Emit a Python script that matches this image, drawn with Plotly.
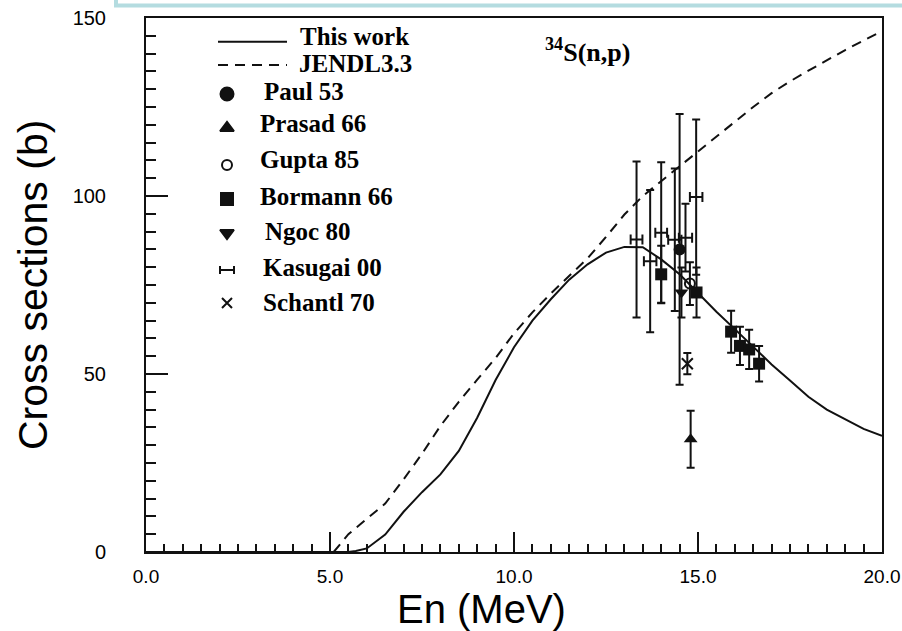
import plotly.graph_objects as go

# ---- calculated excitation functions for 34S(n,p) ----
E_this_work = [0.0, 5.5, 5.7, 6.0, 6.5, 7.0, 7.5, 8.0, 8.5, 9.0, 9.5, 10.0, 10.5,
               11.0, 11.5, 12.0, 12.5, 13.0, 13.5, 14.0, 14.5, 15.0, 15.5, 16.0,
               16.5, 17.0, 17.5, 18.0, 18.5, 19.0, 19.5, 20.0]
xs_this_work = [0.0, 0.0, 0.3, 1.0, 4.9, 11.3, 16.8, 21.8, 28.4, 37.7, 48.3, 57.5, 65.0,
                71.0, 76.5, 80.8, 84.1, 85.7, 85.6, 82.2, 78.0, 72.6, 67.5, 62.6,
                57.6, 52.7, 48.2, 43.6, 40.0, 37.3, 34.6, 32.6]

E_jendl = [5.1, 5.5, 6.0, 6.5, 7.0, 7.5, 8.0, 8.5, 9.0, 9.5, 10.0, 10.5, 11.0, 11.5,
           12.0, 12.5, 13.0, 13.5, 14.0, 14.5, 15.0, 15.5, 16.0, 16.5, 17.0, 17.5,
           18.0, 18.5, 19.0, 19.5, 20.0]
xs_jendl = [0.0, 5.0, 9.3, 13.6, 20.4, 27.6, 35.4, 42.2, 48.4, 54.5, 61.4, 67.3, 72.6,
            77.5, 82.5, 88.5, 94.8, 100.0, 104.2, 108.4, 112.5, 116.8, 121.0, 125.0,
            128.9, 132.2, 135.2, 138.2, 141.0, 143.7, 146.3]

# ---- measured data ----
paul_E, paul_xs, paul_err = [14.5], [85.0], [38.0]
prasad_E, prasad_xs, prasad_err = [14.8], [31.7], [8.0]
gupta_E, gupta_xs, gupta_err = [14.78], [75.4], [6.0]
bormann_E = [14.0, 14.96, 15.9, 16.14, 16.39, 16.66]
bormann_xs = [78.0, 72.9, 61.9, 57.9, 56.9, 52.9]
bormann_err = [8.0, 7.0, 5.9, 5.4, 5.5, 5.0]
ngoc_E, ngoc_xs, ngoc_err = [14.55], [72.9], [7.0]
kasugai_E = [13.33, 13.70, 14.00, 14.37, 14.66, 14.95]
kasugai_xs = [87.8, 81.7, 89.7, 87.7, 88.3, 99.7]
kasugai_err = [21.9, 20.0, 19.8, 20.0, 9.5, 21.8]
kasugai_Eerr = [0.16, 0.17, 0.16, 0.18, 0.18, 0.17]
schantl_E, schantl_xs, schantl_err = [14.71], [52.9], [3.0]

# axis ticks: major positions and minor spacing
x_ticks = [0, 5, 10, 15, 20]
x_minor_step = 0.5
y_ticks = [0, 50, 100, 150]
y_minor_step = 5

INK = "#111111"
SERIF = "Liberation Serif, Times New Roman, serif"
SANS = "Liberation Sans, Arial, sans-serif"

W, H = 902, 631
ML, MR, MT, MB = 146, 20, 18, 79
PW, PH = W - ML - MR, H - MT - MB
X_RANGE = [x_ticks[0], x_ticks[-1]]
Y_RANGE = [y_ticks[0], y_ticks[-1]]


def px_x(p):
    return (p - ML) / PW


def px_y(p):
    return (H - MB - p) / PH


# pixel position -> data units, used only to lay out the key
def key_x(p):
    return X_RANGE[0] + px_x(p) * (X_RANGE[1] - X_RANGE[0])


def key_y(p):
    return Y_RANGE[0] + px_y(p) * (Y_RANGE[1] - Y_RANGE[0])


fig = go.Figure()

fig.add_trace(go.Scatter(x=E_jendl, y=xs_jendl, mode="lines",
                         line=dict(color=INK, width=2, dash="10px,7px"),
                         hoverinfo="skip", showlegend=False))
fig.add_trace(go.Scatter(x=E_this_work, y=xs_this_work, mode="lines",
                         line=dict(color=INK, width=2),
                         hoverinfo="skip", showlegend=False))


def err_y(arr, w=4):
    return dict(type="data", array=arr, color=INK, thickness=2, width=w)


fig.add_trace(go.Scatter(x=kasugai_E, y=kasugai_xs, mode="markers",
                         marker=dict(size=2, color="rgba(0,0,0,0)"),
                         error_y=err_y(kasugai_err),
                         error_x=dict(type="data", array=kasugai_Eerr, color=INK,
                                      thickness=2, width=5),
                         showlegend=False))
fig.add_trace(go.Scatter(x=paul_E, y=paul_xs, mode="markers",
                         marker=dict(symbol="circle", size=12, color=INK),
                         error_y=err_y(paul_err), showlegend=False))
fig.add_trace(go.Scatter(x=bormann_E, y=bormann_xs, mode="markers",
                         marker=dict(symbol="square", size=12, color=INK),
                         error_y=err_y(bormann_err), showlegend=False))
fig.add_trace(go.Scatter(x=gupta_E, y=gupta_xs, mode="markers",
                         marker=dict(symbol="circle-open", size=10, color=INK,
                                     line=dict(width=2, color=INK)),
                         error_y=err_y(gupta_err), showlegend=False))
fig.add_trace(go.Scatter(x=ngoc_E, y=ngoc_xs, mode="markers",
                         marker=dict(symbol="triangle-down", size=12, color=INK),
                         error_y=err_y(ngoc_err), showlegend=False))
fig.add_trace(go.Scatter(x=prasad_E, y=prasad_xs, mode="markers",
                         marker=dict(symbol="triangle-up", size=12, color=INK),
                         error_y=err_y(prasad_err), showlegend=False))
fig.add_trace(go.Scatter(x=schantl_E, y=schantl_xs, mode="markers",
                         marker=dict(symbol="x-thin", size=11, color=INK,
                                     line=dict(width=2, color=INK)),
                         error_y=err_y(schantl_err), showlegend=False))

# ---- hand-built key (pixel layout converted to axis units) ----
key_line_px = [218, 287]
key_marker_px = 227
key_rows = [
    ("line", "This work", 41.7, 36.7, 298),
    ("dash", "JENDL3.3", 65.0, 64.0, 297),
    ("circle", "Paul 53", 94.0, 91.7, 262),
    ("triangle-up", "Prasad 66", 128.0, 123.0, 258),
    ("circle-open", "Gupta 85", 165.0, 159.0, 258),
    ("square", "Bormann 66", 199.0, 196.0, 258),
    ("triangle-down", "Ngoc 80", 233.0, 231.0, 263),
    ("kasugai", "Kasugai 00", 270.0, 267.0, 261),
    ("x-thin", "Schantl 70", 303.0, 302.0, 261),
]
marker_sizes = {"circle": 13, "triangle-up": 12, "circle-open": 10, "square": 12,
                "triangle-down": 12, "x-thin": 10}

annotations = []
for kind, label, ym, yt, xt in key_rows:
    if kind in ("line", "dash"):
        fig.add_trace(go.Scatter(
            x=[key_x(p) for p in key_line_px], y=[key_y(ym)] * 2, mode="lines",
            line=dict(color=INK, width=2, dash="solid" if kind == "line" else "10px,7px"),
            hoverinfo="skip", showlegend=False))
    elif kind == "kasugai":
        fig.add_trace(go.Scatter(
            x=[key_x(key_marker_px)], y=[key_y(ym)], mode="markers",
            marker=dict(size=2, color="rgba(0,0,0,0)"),
            error_x=dict(type="constant", value=7 * (X_RANGE[1] - X_RANGE[0]) / PW,
                         color=INK, thickness=2, width=4),
            hoverinfo="skip", showlegend=False))
    else:
        fig.add_trace(go.Scatter(
            x=[key_x(key_marker_px)], y=[key_y(ym)], mode="markers",
            marker=dict(symbol=kind, size=marker_sizes[kind], color=INK,
                        line=dict(width=2, color=INK)),
            hoverinfo="skip", showlegend=False))
    annotations.append(dict(
        text=label, x=px_x(xt), y=px_y(yt), xref="paper", yref="paper",
        xanchor="left", yanchor="middle", showarrow=False,
        font=dict(family=SERIF, size=25, color="black", weight="bold")))

annotations += [
    dict(text="<sup>34</sup>S(n,p)", x=px_x(543), y=px_y(50), xref="paper", yref="paper",
         xanchor="left", yanchor="middle", showarrow=False,
         font=dict(family=SERIF, size=26, color="black", weight="bold")),
    dict(text="Cross sections (b)", x=px_x(33), y=0.5, xref="paper", yref="paper",
         xanchor="center", yanchor="middle", textangle=-90, showarrow=False,
         font=dict(family=SANS, size=41, color="black")),
    dict(text="En (MeV)", x=px_x(481), y=px_y(609), xref="paper", yref="paper",
         xanchor="center", yanchor="middle", showarrow=False,
         font=dict(family=SANS, size=40, color="black")),
]

# light frame edge running along the top
shapes = [dict(type="rect", xref="paper", yref="paper",
               x0=px_x(116), x1=px_x(940), y0=px_y(5.5), y1=px_y(-40),
               line=dict(color="#b4dce0", width=4), fillcolor="rgba(0,0,0,0)")]

fig.update_layout(
    width=W, height=H,
    margin=dict(l=ML, r=MR, t=MT, b=MB, autoexpand=False),
    paper_bgcolor="white", plot_bgcolor="white",
    xaxis=dict(range=X_RANGE, tickmode="linear", tick0=x_ticks[0],
               dtick=x_ticks[1] - x_ticks[0], tickformat=".1f",
               ticks="inside", ticklen=20, tickwidth=2, tickcolor=INK,
               ticklabelstandoff=6,
               minor=dict(tickmode="linear", tick0=x_ticks[0], dtick=x_minor_step,
                          ticks="inside", ticklen=8, tickwidth=2, tickcolor=INK),
               showline=True, linecolor=INK, linewidth=2, mirror=True,
               showgrid=False, zeroline=False, layer="above traces",
               tickfont=dict(family=SANS, size=19, color="black")),
    yaxis=dict(range=Y_RANGE, tickmode="linear", tick0=y_ticks[0],
               dtick=y_ticks[1] - y_ticks[0], tickformat="d",
               ticks="inside", ticklen=22, tickwidth=2, tickcolor=INK,
               ticklabelstandoff=34,
               minor=dict(tickmode="linear", tick0=y_ticks[0], dtick=y_minor_step,
                          ticks="inside", ticklen=10, tickwidth=2, tickcolor=INK),
               showline=True, linecolor=INK, linewidth=2, mirror=True,
               showgrid=False, zeroline=False, layer="above traces",
               tickfont=dict(family=SANS, size=20, color="black")),
    annotations=annotations,
    shapes=shapes,
    showlegend=False,
)

fig.write_html("out.html")
